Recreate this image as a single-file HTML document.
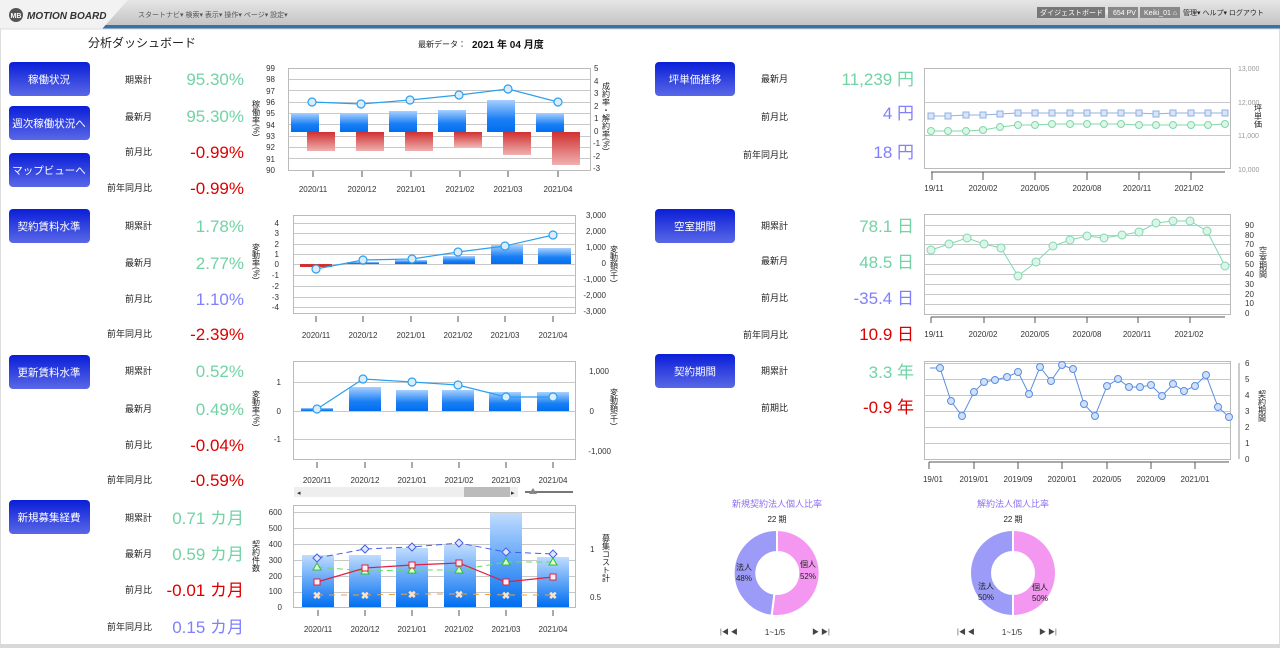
<!DOCTYPE html>
<html><head><meta charset="utf-8"><style>
html,body{margin:0;padding:0;background:#fff;}
svg{display:block;font-family:"Liberation Sans","Noto Sans CJK JP",sans-serif;}
.lb{font-size:9px;fill:#222;text-anchor:end;}
.v{font-size:17px;text-anchor:end;}
.g{fill:#72d3a4}.r{fill:#dd0000}.p{fill:#8080ff}
.bt{font-size:10.5px;fill:#fff;text-anchor:middle;}
.ax{font-size:8px;fill:#333;}
.axr{font-size:7px;fill:#999;}
.grid{stroke:#c8c8c8;stroke-width:1}
.box{fill:#fff;stroke:#bbb;stroke-width:1}
</style></head><body>
<svg width="1280" height="648" viewBox="0 0 1280 648">
<defs>
<linearGradient id="hd" x1="0" y1="0" x2="0" y2="1"><stop offset="0" stop-color="#e6e6e6"/><stop offset="1" stop-color="#c4c4c4"/></linearGradient>
<linearGradient id="btn" x1="0" y1="0" x2="0" y2="1"><stop offset="0" stop-color="#0a1ed8"/><stop offset="1" stop-color="#5a68e6"/></linearGradient>
<linearGradient id="bb" x1="0" y1="0" x2="0" y2="1"><stop offset="0" stop-color="#a8d0ff"/><stop offset="0.6" stop-color="#1a7ff5"/><stop offset="1" stop-color="#006ef0"/></linearGradient>
<linearGradient id="rb" x1="0" y1="0" x2="0" y2="1"><stop offset="0" stop-color="#d03030"/><stop offset="1" stop-color="#f0b0b0"/></linearGradient>
<linearGradient id="bb4" x1="0" y1="0" x2="0" y2="1"><stop offset="0" stop-color="#c0dcff"/><stop offset="1" stop-color="#006ef0"/></linearGradient>
</defs>
<rect x="0" y="0" width="1280" height="648" fill="#fff"/>
<rect x="0" y="0" width="1280" height="25" fill="url(#hd)"/>
<rect x="100" y="25" width="1180" height="4" fill="#3d6fa8"/>
<polygon points="0,0 128,0 102,29 0,29" fill="#f2f2f2"/>
<circle cx="16" cy="15" r="7" fill="#555"/><text x="16" y="18" font-size="7" fill="#fff" text-anchor="middle" font-weight="bold">MB</text>
<text x="27" y="19" font-size="10" font-weight="bold" font-style="italic" fill="#333">MOTION BOARD</text>
<text x="138" y="17" font-size="7" fill="#555">スタートナビ▾ 検索▾ 表示▾ 操作▾ ページ▾    設定▾</text>
<rect x="1037" y="7" width="68" height="11" fill="#777"/><text x="1040" y="15" font-size="7" fill="#fff">ダイジェストボード ↻</text>
<rect x="1108" y="7" width="30" height="11" fill="#888"/><text x="1113" y="15" font-size="7" fill="#fff">654 PV</text>
<rect x="1140" y="7" width="40" height="11" fill="#888"/><text x="1144" y="15" font-size="7" fill="#fff">Keiki_01 ⌂</text>
<text x="1183" y="15" font-size="7" fill="#222">管理▾ ヘルプ▾  ログアウト</text>
<rect x="0.5" y="29" width="1279" height="617" fill="none" stroke="#ddd"/>
<rect x="0" y="644" width="1280" height="4" fill="#d8d8d8"/>

<text x="88" y="47" font-size="12" fill="#222">分析ダッシュボード</text>
<text x="418" y="47" font-size="8" fill="#222">最新データ：</text>
<text x="472" y="48" font-size="10" font-weight="bold" fill="#111">2021 年 04 月度</text>

<g>
<rect x="9" y="62" width="81" height="34" rx="4" fill="url(#btn)"/><text class="bt" x="49" y="83">稼働状況</text>
<rect x="9" y="106" width="81" height="34" rx="4" fill="url(#btn)"/><text class="bt" x="49" y="127">週次稼働状況へ</text>
<rect x="9" y="153" width="81" height="34" rx="4" fill="url(#btn)"/><text class="bt" x="49" y="174">マップビューへ</text>
<rect x="9" y="209" width="81" height="34" rx="4" fill="url(#btn)"/><text class="bt" x="49" y="230">契約賃料水準</text>
<rect x="9" y="355" width="81" height="34" rx="4" fill="url(#btn)"/><text class="bt" x="49" y="376">更新賃料水準</text>
<rect x="9" y="500" width="81" height="34" rx="4" fill="url(#btn)"/><text class="bt" x="49" y="521">新規募集経費</text>
<rect x="655" y="62" width="80" height="34" rx="4" fill="url(#btn)"/><text class="bt" x="695" y="83">坪単価推移</text>
<rect x="655" y="209" width="80" height="34" rx="4" fill="url(#btn)"/><text class="bt" x="695" y="230">空室期間</text>
<rect x="655" y="354" width="80" height="34" rx="4" fill="url(#btn)"/><text class="bt" x="695" y="375">契約期間</text>
</g>

<text class="lb" x="152" y="83">期累計</text><text class="v g" x="244" y="85">95.30%</text>
<text class="lb" x="152" y="120">最新月</text><text class="v g" x="244" y="122">95.30%</text>
<text class="lb" x="152" y="155">前月比</text><text class="v r" x="244" y="158">-0.99%</text>
<text class="lb" x="152" y="191">前年同月比</text><text class="v r" x="244" y="194">-0.99%</text>
<text class="lb" x="152" y="229">期累計</text><text class="v g" x="244" y="232">1.78%</text>
<text class="lb" x="152" y="266">最新月</text><text class="v g" x="244" y="269">2.77%</text>
<text class="lb" x="152" y="302">前月比</text><text class="v p" x="244" y="305">1.10%</text>
<text class="lb" x="152" y="337">前年同月比</text><text class="v r" x="244" y="340">-2.39%</text>
<text class="lb" x="152" y="374">期累計</text><text class="v g" x="244" y="377">0.52%</text>
<text class="lb" x="152" y="412">最新月</text><text class="v g" x="244" y="415">0.49%</text>
<text class="lb" x="152" y="448">前月比</text><text class="v r" x="244" y="451">-0.04%</text>
<text class="lb" x="152" y="483">前年同月比</text><text class="v r" x="244" y="486">-0.59%</text>
<text class="lb" x="152" y="521">期累計</text><text class="v g" x="244" y="524">0.71 カ月</text>
<text class="lb" x="152" y="557">最新月</text><text class="v g" x="244" y="560">0.59 カ月</text>
<text class="lb" x="152" y="593">前月比</text><text class="v r" x="244" y="596">-0.01 カ月</text>
<text class="lb" x="152" y="630">前年同月比</text><text class="v p" x="244" y="633">0.15 カ月</text>

<text class="lb" x="788" y="82">最新月</text><text class="v g" x="914" y="85">11,239 円</text>
<text class="lb" x="788" y="120">前月比</text><text class="v p" x="914" y="119">4 円</text>
<text class="lb" x="788" y="158">前年同月比</text><text class="v p" x="914" y="158">18 円</text>
<text class="lb" x="788" y="229">期累計</text><text class="v g" x="914" y="232">78.1 日</text>
<text class="lb" x="788" y="264">最新月</text><text class="v g" x="914" y="268">48.5 日</text>
<text class="lb" x="788" y="301">前月比</text><text class="v p" x="914" y="304">-35.4 日</text>
<text class="lb" x="788" y="338">前年同月比</text><text class="v r" x="914" y="340">10.9 日</text>
<text class="lb" x="788" y="374">期累計</text><text class="v g" x="914" y="378">3.3 年</text>
<text class="lb" x="788" y="411">前期比</text><text class="v r" x="914" y="413">-0.9 年</text>

<!-- Chart 1 -->
<rect class="box" x="288.5" y="68.5" width="302" height="102"/>
<g class="grid">
<line x1="289" y1="79.5" x2="590" y2="79.5"/><line x1="289" y1="90.5" x2="590" y2="90.5"/><line x1="289" y1="102.5" x2="590" y2="102.5"/><line x1="289" y1="113.5" x2="590" y2="113.5"/><line x1="289" y1="124.5" x2="590" y2="124.5"/><line x1="289" y1="136.5" x2="590" y2="136.5"/><line x1="289" y1="147.5" x2="590" y2="147.5"/><line x1="289" y1="158.5" x2="590" y2="158.5"/>
</g>
<g fill="url(#bb)">
<rect x="291" y="113" width="28" height="19"/><rect x="340" y="113" width="28" height="19"/><rect x="389" y="111" width="28" height="21"/><rect x="438" y="110" width="28" height="22"/><rect x="487" y="100" width="28" height="32"/><rect x="536" y="113" width="28" height="19"/>
</g>
<g fill="url(#rb)">
<rect x="307" y="132" width="28" height="19"/><rect x="356" y="132" width="28" height="19"/><rect x="405" y="132" width="28" height="19"/><rect x="454" y="132" width="28" height="15"/><rect x="503" y="132" width="28" height="23"/><rect x="552" y="132" width="28" height="33"/>
</g>
<polyline points="312,102 361,104 410,100 459,95 508,89 558,102" fill="none" stroke="#2aa0f0" stroke-width="1.2"/>
<g fill="#dcecfa" stroke="#2aa0f0" stroke-width="1.2"><circle cx="312" cy="102" r="4"/><circle cx="361" cy="104" r="4"/><circle cx="410" cy="100" r="4"/><circle cx="459" cy="95" r="4"/><circle cx="508" cy="89" r="4"/><circle cx="558" cy="102" r="4"/></g>
<g class="ax" text-anchor="end">
<text x="275" y="71">99</text><text x="275" y="82">98</text><text x="275" y="94">97</text><text x="275" y="105">96</text><text x="275" y="116">95</text><text x="275" y="128">94</text><text x="275" y="139">93</text><text x="275" y="150">92</text><text x="275" y="162">91</text><text x="275" y="173">90</text>
</g>
<g class="ax"><text x="594" y="71">5</text><text x="594" y="84">4</text><text x="594" y="96">3</text><text x="594" y="109">2</text><text x="594" y="121">1</text><text x="594" y="134">0</text><text x="593" y="146">-1</text><text x="593" y="159">-2</text><text x="593" y="171">-3</text></g>
<text x="256" y="100" font-size="8" fill="#222" writing-mode="tb">稼働率(%)</text>
<text x="606" y="82" font-size="8" fill="#222" writing-mode="tb">成約率・解約率(%)</text>
<g stroke="#555"><line x1="313" y1="171" x2="313" y2="177"/><line x1="362" y1="171" x2="362" y2="177"/><line x1="411" y1="171" x2="411" y2="177"/><line x1="460" y1="171" x2="460" y2="177"/><line x1="508" y1="171" x2="508" y2="177"/><line x1="558" y1="171" x2="558" y2="177"/></g>
<g class="ax" text-anchor="middle"><text x="313" y="192">2020/11</text><text x="362" y="192">2020/12</text><text x="411" y="192">2021/01</text><text x="460" y="192">2021/02</text><text x="508" y="192">2021/03</text><text x="558" y="192">2021/04</text></g>

<!-- Chart 2 -->
<rect class="box" x="293.5" y="215.5" width="282" height="98"/>
<g class="grid">
<line x1="294" y1="223.5" x2="575" y2="223.5"/><line x1="294" y1="233.5" x2="575" y2="233.5"/><line x1="294" y1="244.5" x2="575" y2="244.5"/><line x1="294" y1="254.5" x2="575" y2="254.5"/><line x1="294" y1="264.5" x2="575" y2="264.5"/><line x1="294" y1="275.5" x2="575" y2="275.5"/><line x1="294" y1="286.5" x2="575" y2="286.5"/><line x1="294" y1="297.5" x2="575" y2="297.5"/><line x1="294" y1="307.5" x2="575" y2="307.5"/>
</g>
<rect x="300" y="264" width="32" height="3" fill="#d03030"/>
<g fill="url(#bb)"><rect x="347" y="262" width="32" height="2"/><rect x="395" y="260" width="32" height="4"/><rect x="443" y="256" width="32" height="8"/><rect x="491" y="245" width="32" height="19"/><rect x="538" y="248" width="33" height="16"/></g>
<polyline points="316,269 363,260 412,259 458,252 505,246 553,235" fill="none" stroke="#2aa0f0" stroke-width="1.2"/>
<g fill="#dcecfa" stroke="#2aa0f0" stroke-width="1.2"><circle cx="316" cy="269" r="4"/><circle cx="363" cy="260" r="4"/><circle cx="412" cy="259" r="4"/><circle cx="458" cy="252" r="4"/><circle cx="505" cy="246" r="4"/><circle cx="553" cy="235" r="4"/></g>
<g class="ax" text-anchor="end"><text x="279" y="226">4</text><text x="279" y="236">3</text><text x="279" y="247">2</text><text x="279" y="257">1</text><text x="279" y="267">0</text><text x="279" y="278">-1</text><text x="279" y="289">-2</text><text x="279" y="300">-3</text><text x="279" y="310">-4</text></g>
<g class="ax" text-anchor="end"><text x="606" y="218">3,000</text><text x="606" y="234">2,000</text><text x="606" y="250">1,000</text><text x="606" y="266">0</text><text x="606" y="282">-1,000</text><text x="606" y="298">-2,000</text><text x="606" y="314">-3,000</text></g>
<text x="256" y="243" font-size="8" fill="#222" writing-mode="tb">変動率(%)</text>
<text x="614" y="245" font-size="8" fill="#222" writing-mode="tb">変動額(千)</text>
<g stroke="#555"><line x1="316" y1="316" x2="316" y2="322"/><line x1="363" y1="316" x2="363" y2="322"/><line x1="411" y1="316" x2="411" y2="322"/><line x1="458" y1="316" x2="458" y2="322"/><line x1="505" y1="316" x2="505" y2="322"/><line x1="553" y1="316" x2="553" y2="322"/></g>
<g class="ax" text-anchor="middle"><text x="316" y="338">2020/11</text><text x="363" y="338">2020/12</text><text x="411" y="338">2021/01</text><text x="458" y="338">2021/02</text><text x="505" y="338">2021/03</text><text x="553" y="338">2021/04</text></g>

<!-- Chart 3 -->
<rect class="box" x="293.5" y="361.5" width="282" height="98"/>
<g class="grid"><line x1="294" y1="382.5" x2="575" y2="382.5"/><line x1="294" y1="411.5" x2="575" y2="411.5"/><line x1="294" y1="439.5" x2="575" y2="439.5"/></g>
<g fill="url(#bb)"><rect x="301" y="408" width="32" height="3"/><rect x="349" y="387" width="32" height="24"/><rect x="396" y="390" width="32" height="21"/><rect x="442" y="390" width="32" height="21"/><rect x="489" y="392" width="32" height="19"/><rect x="537" y="392" width="32" height="19"/></g>
<polyline points="317,409 363,379 412,382 458,385 506,397 553,397" fill="none" stroke="#2aa0f0" stroke-width="1.2"/>
<g fill="#dcecfa" stroke="#2aa0f0" stroke-width="1.2"><circle cx="317" cy="409" r="4"/><circle cx="363" cy="379" r="4"/><circle cx="412" cy="382" r="4"/><circle cx="458" cy="385" r="4"/><circle cx="506" cy="397" r="4"/><circle cx="553" cy="397" r="4"/></g>
<g class="ax" text-anchor="end"><text x="281" y="385">1</text><text x="281" y="414">0</text><text x="281" y="442">-1</text></g>
<g class="ax" text-anchor="end"><text x="609" y="374">1,000</text><text x="594" y="414">0</text><text x="611" y="454">-1,000</text></g>
<text x="256" y="390" font-size="8" fill="#222" writing-mode="tb">変動率(%)</text>
<text x="614" y="388" font-size="8" fill="#222" writing-mode="tb">変動額(千)</text>
<g stroke="#555"><line x1="317" y1="462" x2="317" y2="468"/><line x1="365" y1="462" x2="365" y2="468"/><line x1="412" y1="462" x2="412" y2="468"/><line x1="459" y1="462" x2="459" y2="468"/><line x1="506" y1="462" x2="506" y2="468"/><line x1="553" y1="462" x2="553" y2="468"/></g>
<g class="ax" text-anchor="middle"><text x="317" y="483">2020/11</text><text x="365" y="483">2020/12</text><text x="412" y="483">2021/01</text><text x="459" y="483">2021/02</text><text x="506" y="483">2021/03</text><text x="553" y="483">2021/04</text></g>
<rect x="294" y="487" width="224" height="10" fill="#eee"/><rect x="464" y="487" width="46" height="10" fill="#bbb"/>
<text x="297" y="495" font-size="7" fill="#333">◂</text><text x="511" y="495" font-size="7" fill="#333">▸</text>
<line x1="525" y1="492" x2="573" y2="492" stroke="#777" stroke-width="2"/><polygon points="533,488 529,494 537,494" fill="#888"/>

<!-- Chart 4 -->
<rect class="box" x="293.5" y="505.5" width="282" height="102"/>
<g class="grid"><line x1="294" y1="512.5" x2="575" y2="512.5"/><line x1="294" y1="528.5" x2="575" y2="528.5"/><line x1="294" y1="544.5" x2="575" y2="544.5"/><line x1="294" y1="560.5" x2="575" y2="560.5"/><line x1="294" y1="576.5" x2="575" y2="576.5"/><line x1="294" y1="592.5" x2="575" y2="592.5"/></g>
<g fill="url(#bb4)"><rect x="302" y="555" width="32" height="52"/><rect x="349" y="555" width="32" height="52"/><rect x="396" y="548" width="32" height="59"/><rect x="444" y="545" width="32" height="62"/><rect x="490" y="513" width="32" height="94"/><rect x="537" y="557" width="32" height="50"/></g>
<polyline points="317,558 365,549 412,547 459,543 506,552 553,554" fill="none" stroke="#4060f0" stroke-dasharray="6,4"/>
<polyline points="317,567 365,571 412,570 459,570 506,562 553,562" fill="none" stroke="#60e060" stroke-dasharray="6,4"/>
<polyline points="317,595 365,595 412,594 459,594 506,595 553,595" fill="none" stroke="#f0a040" stroke-dasharray="6,6"/>
<polyline points="317,582 365,568 412,565 459,563 506,582 553,577" fill="none" stroke="#e02040" stroke-width="1.2"/>
<g fill="#dfe6ff" stroke="#4060f0"><polygon points="317,554 321,558 317,562 313,558"/><polygon points="365,545 369,549 365,553 361,549"/><polygon points="412,543 416,547 412,551 408,547"/><polygon points="459,539 463,543 459,547 455,543"/><polygon points="506,548 510,552 506,556 502,552"/><polygon points="553,550 557,554 553,558 549,554"/></g>
<g fill="#dfffd8" stroke="#30c030"><polygon points="317,563 321,570 313,570"/><polygon points="365,567 369,574 361,574"/><polygon points="412,566 416,573 408,573"/><polygon points="459,566 463,573 455,573"/><polygon points="506,558 510,565 502,565"/><polygon points="553,558 557,565 549,565"/></g>
<g fill="#fff0f0" stroke="#e02040"><rect x="314" y="579" width="6" height="6"/><rect x="362" y="565" width="6" height="6"/><rect x="409" y="562" width="6" height="6"/><rect x="456" y="560" width="6" height="6"/><rect x="503" y="579" width="6" height="6"/><rect x="550" y="574" width="6" height="6"/></g>
<g font-size="10" fill="#fbe3c8" text-anchor="middle" font-weight="bold"><text x="317" y="599">✖</text><text x="365" y="599">✖</text><text x="412" y="598">✖</text><text x="459" y="598">✖</text><text x="506" y="599">✖</text><text x="553" y="599">✖</text></g>
<g class="ax" text-anchor="end"><text x="282" y="515">600</text><text x="282" y="531">500</text><text x="282" y="547">400</text><text x="282" y="563">300</text><text x="282" y="579">200</text><text x="282" y="594">100</text><text x="282" y="610">0</text></g>
<g class="ax"><text x="590" y="552">1</text><text x="590" y="600">0.5</text></g>
<text x="256" y="540" font-size="8" fill="#222" writing-mode="tb">契約件数</text>
<text x="606" y="534" font-size="8" fill="#222" writing-mode="tb">募集コスト計</text>
<g stroke="#555"><line x1="318" y1="610" x2="318" y2="616"/><line x1="365" y1="610" x2="365" y2="616"/><line x1="412" y1="610" x2="412" y2="616"/><line x1="459" y1="610" x2="459" y2="616"/><line x1="506" y1="610" x2="506" y2="616"/><line x1="553" y1="610" x2="553" y2="616"/></g>
<g class="ax" text-anchor="middle"><text x="318" y="632">2020/11</text><text x="365" y="632">2020/12</text><text x="412" y="632">2021/01</text><text x="459" y="632">2021/02</text><text x="506" y="632">2021/03</text><text x="553" y="632">2021/04</text></g>

<!-- Chart A -->
<rect class="box" x="924.5" y="68.5" width="306" height="100"/>
<g class="grid"><line x1="925" y1="102.5" x2="1230" y2="102.5"/><line x1="925" y1="135.5" x2="1230" y2="135.5"/></g>
<polyline points="931,116 948,116 966,115 983,115 1000,114 1018,113 1035,113 1052,113 1070,113 1087,113 1104,113 1121,113 1139,113 1156,114 1173,113 1191,113 1208,113 1225,113" fill="none" stroke="#90b0e0"/>
<g fill="#d8e4f8" stroke="#90b0e0"><rect x="928" y="113" width="6" height="6"/><rect x="945" y="113" width="6" height="6"/><rect x="963" y="112" width="6" height="6"/><rect x="980" y="112" width="6" height="6"/><rect x="997" y="111" width="6" height="6"/><rect x="1015" y="110" width="6" height="6"/><rect x="1032" y="110" width="6" height="6"/><rect x="1049" y="110" width="6" height="6"/><rect x="1067" y="110" width="6" height="6"/><rect x="1084" y="110" width="6" height="6"/><rect x="1101" y="110" width="6" height="6"/><rect x="1118" y="110" width="6" height="6"/><rect x="1136" y="110" width="6" height="6"/><rect x="1153" y="111" width="6" height="6"/><rect x="1170" y="110" width="6" height="6"/><rect x="1188" y="110" width="6" height="6"/><rect x="1205" y="110" width="6" height="6"/><rect x="1222" y="110" width="6" height="6"/></g>
<polyline points="931,131 948,131 966,131 983,130 1000,127 1018,125 1035,125 1052,124 1070,124 1087,124 1104,124 1121,124 1139,125 1156,125 1173,125 1191,125 1208,125 1225,124" fill="none" stroke="#80d8a8"/>
<g fill="#dcf5e8" stroke="#80d8a8"><circle cx="931" cy="131" r="3.5"/><circle cx="948" cy="131" r="3.5"/><circle cx="966" cy="131" r="3.5"/><circle cx="983" cy="130" r="3.5"/><circle cx="1000" cy="127" r="3.5"/><circle cx="1018" cy="125" r="3.5"/><circle cx="1035" cy="125" r="3.5"/><circle cx="1052" cy="124" r="3.5"/><circle cx="1070" cy="124" r="3.5"/><circle cx="1087" cy="124" r="3.5"/><circle cx="1104" cy="124" r="3.5"/><circle cx="1121" cy="124" r="3.5"/><circle cx="1139" cy="125" r="3.5"/><circle cx="1156" cy="125" r="3.5"/><circle cx="1173" cy="125" r="3.5"/><circle cx="1191" cy="125" r="3.5"/><circle cx="1208" cy="125" r="3.5"/><circle cx="1225" cy="124" r="3.5"/></g>
<g class="axr"><text x="1238" y="71">13,000</text><text x="1238" y="105">12,000</text><text x="1238" y="138">11,000</text><text x="1238" y="172">10,000</text></g>
<text x="1258" y="104" font-size="8" fill="#222" writing-mode="tb">坪単価</text>
<line x1="931" y1="172" x2="1225" y2="172" stroke="#555"/>
<g stroke="#555"><line x1="932" y1="172" x2="932" y2="180"/><line x1="983" y1="172" x2="983" y2="180"/><line x1="1035" y1="172" x2="1035" y2="180"/><line x1="1087" y1="172" x2="1087" y2="180"/><line x1="1139" y1="172" x2="1139" y2="180"/><line x1="1191" y1="172" x2="1191" y2="180"/></g>
<g class="ax" text-anchor="middle"><text x="934" y="191">19/11</text><text x="983" y="191">2020/02</text><text x="1035" y="191">2020/05</text><text x="1087" y="191">2020/08</text><text x="1137" y="191">2020/11</text><text x="1189" y="191">2021/02</text></g>

<!-- Chart B -->
<rect class="box" x="924.5" y="214.5" width="306" height="100"/>
<g class="grid"><line x1="925" y1="225.5" x2="1230" y2="225.5"/><line x1="925" y1="235.5" x2="1230" y2="235.5"/><line x1="925" y1="244.5" x2="1230" y2="244.5"/><line x1="925" y1="254.5" x2="1230" y2="254.5"/><line x1="925" y1="264.5" x2="1230" y2="264.5"/><line x1="925" y1="274.5" x2="1230" y2="274.5"/><line x1="925" y1="284.5" x2="1230" y2="284.5"/><line x1="925" y1="294.5" x2="1230" y2="294.5"/><line x1="925" y1="304.5" x2="1230" y2="304.5"/></g>
<polyline points="931,250 949,244 967,238 984,244 1001,248 1018,276 1036,262 1053,246 1070,240 1087,236 1104,238 1122,235 1139,232 1156,223 1173,221 1190,221 1207,231 1225,266" fill="none" stroke="#80d8b0"/>
<g fill="#dcf5e8" stroke="#80d8b0"><circle cx="931" cy="250" r="4"/><circle cx="949" cy="244" r="4"/><circle cx="967" cy="238" r="4"/><circle cx="984" cy="244" r="4"/><circle cx="1001" cy="248" r="4"/><circle cx="1018" cy="276" r="4"/><circle cx="1036" cy="262" r="4"/><circle cx="1053" cy="246" r="4"/><circle cx="1070" cy="240" r="4"/><circle cx="1087" cy="236" r="4"/><circle cx="1104" cy="238" r="4"/><circle cx="1122" cy="235" r="4"/><circle cx="1139" cy="232" r="4"/><circle cx="1156" cy="223" r="4"/><circle cx="1173" cy="221" r="4"/><circle cx="1190" cy="221" r="4"/><circle cx="1207" cy="231" r="4"/><circle cx="1225" cy="266" r="4"/></g>
<g class="ax"><text x="1245" y="228">90</text><text x="1245" y="238">80</text><text x="1245" y="247">70</text><text x="1245" y="257">60</text><text x="1245" y="267">50</text><text x="1245" y="277">40</text><text x="1245" y="287">30</text><text x="1245" y="297">20</text><text x="1245" y="306">10</text><text x="1245" y="316">0</text></g>
<text x="1263" y="246" font-size="8" fill="#222" writing-mode="tb">空室期間</text>
<line x1="931" y1="317" x2="1225" y2="317" stroke="#555"/>
<g stroke="#555"><line x1="931" y1="317" x2="931" y2="323"/><line x1="984" y1="317" x2="984" y2="323"/><line x1="1035" y1="317" x2="1035" y2="323"/><line x1="1087" y1="317" x2="1087" y2="323"/><line x1="1138" y1="317" x2="1138" y2="323"/><line x1="1190" y1="317" x2="1190" y2="323"/></g>
<g class="ax" text-anchor="middle"><text x="934" y="337">19/11</text><text x="983" y="337">2020/02</text><text x="1035" y="337">2020/05</text><text x="1087" y="337">2020/08</text><text x="1137" y="337">2020/11</text><text x="1189" y="337">2021/02</text></g>

<!-- Chart C -->
<rect class="box" x="924.5" y="361.5" width="306" height="98"/>
<g class="grid"><line x1="925" y1="363.5" x2="1230" y2="363.5"/><line x1="925" y1="379.5" x2="1230" y2="379.5"/><line x1="925" y1="395.5" x2="1230" y2="395.5"/><line x1="925" y1="411.5" x2="1230" y2="411.5"/><line x1="925" y1="427.5" x2="1230" y2="427.5"/><line x1="925" y1="443.5" x2="1230" y2="443.5"/></g>
<polyline points="930,368 940,368 951,401 962,416 974,392 984,382 995,380 1007,377 1018,372 1029,394 1040,367 1051,381 1062,365 1073,369 1084,404 1095,416 1107,386 1118,379 1129,387 1140,387 1151,385 1162,396 1173,384 1184,391 1195,386 1206,375 1218,407 1229,417" fill="none" stroke="#5a8ee0"/>
<g fill="#d0e0f8" stroke="#5a8ee0"><circle cx="940" cy="368" r="3.5"/><circle cx="951" cy="401" r="3.5"/><circle cx="962" cy="416" r="3.5"/><circle cx="974" cy="392" r="3.5"/><circle cx="984" cy="382" r="3.5"/><circle cx="995" cy="380" r="3.5"/><circle cx="1007" cy="377" r="3.5"/><circle cx="1018" cy="372" r="3.5"/><circle cx="1029" cy="394" r="3.5"/><circle cx="1040" cy="367" r="3.5"/><circle cx="1051" cy="381" r="3.5"/><circle cx="1062" cy="365" r="3.5"/><circle cx="1073" cy="369" r="3.5"/><circle cx="1084" cy="404" r="3.5"/><circle cx="1095" cy="416" r="3.5"/><circle cx="1107" cy="386" r="3.5"/><circle cx="1118" cy="379" r="3.5"/><circle cx="1129" cy="387" r="3.5"/><circle cx="1140" cy="387" r="3.5"/><circle cx="1151" cy="385" r="3.5"/><circle cx="1162" cy="396" r="3.5"/><circle cx="1173" cy="384" r="3.5"/><circle cx="1184" cy="391" r="3.5"/><circle cx="1195" cy="386" r="3.5"/><circle cx="1206" cy="375" r="3.5"/><circle cx="1218" cy="407" r="3.5"/><circle cx="1229" cy="417" r="3.5"/></g>
<line x1="1239" y1="363" x2="1239" y2="459" stroke="#999"/>
<g class="ax"><text x="1245" y="366">6</text><text x="1245" y="382">5</text><text x="1245" y="398">4</text><text x="1245" y="414">3</text><text x="1245" y="430">2</text><text x="1245" y="446">1</text><text x="1245" y="462">0</text></g>
<text x="1262" y="390" font-size="8" fill="#222" writing-mode="tb">契約期間</text>
<line x1="929" y1="462" x2="1229" y2="462" stroke="#555"/>
<g stroke="#555"><line x1="929" y1="462" x2="929" y2="469"/><line x1="974" y1="462" x2="974" y2="469"/><line x1="1018" y1="462" x2="1018" y2="469"/><line x1="1062" y1="462" x2="1062" y2="469"/><line x1="1107" y1="462" x2="1107" y2="469"/><line x1="1151" y1="462" x2="1151" y2="469"/><line x1="1195" y1="462" x2="1195" y2="469"/></g>
<g class="ax" text-anchor="middle"><text x="933" y="482">19/01</text><text x="974" y="482">2019/01</text><text x="1018" y="482">2019/09</text><text x="1062" y="482">2020/01</text><text x="1107" y="482">2020/05</text><text x="1151" y="482">2020/09</text><text x="1195" y="482">2021/01</text></g>

<!-- Donuts -->
<text x="777" y="507" font-size="9" fill="#9070f0" text-anchor="middle">新規契約法人個人比率</text>
<text x="777" y="522" font-size="8" fill="#222" text-anchor="middle">22 期</text>
<path d="M777,530 A43,43 0 1 1 771.6,615.7 L774.4,593.8 A21,21 0 1 0 777,552 Z" fill="#f397f0" stroke="#fff" stroke-width="2"/>
<path d="M771.6,615.7 A43,43 0 0 1 777,530 L777,552 A21,21 0 0 0 774.4,593.8 Z" fill="#9c9cf8" stroke="#fff" stroke-width="2"/>
<text x="744" y="570" font-size="8" fill="#222" text-anchor="middle">法人</text><text x="744" y="581" font-size="8" fill="#222" text-anchor="middle">48%</text>
<text x="808" y="567" font-size="8" fill="#222" text-anchor="middle">個人</text><text x="808" y="579" font-size="8" fill="#222" text-anchor="middle">52%</text>
<text x="775" y="635" font-size="8" fill="#333" text-anchor="middle">1~1/5</text>
<text x="720" y="634" font-size="7" fill="#444">|◀     ◀</text><text x="812" y="634" font-size="7" fill="#444">▶     ▶|</text>

<text x="1013" y="507" font-size="9" fill="#9070f0" text-anchor="middle">解約法人個人比率</text>
<text x="1013" y="522" font-size="8" fill="#222" text-anchor="middle">22 期</text>
<path d="M1013,530 A43,43 0 0 1 1013,616 L1013,594 A21,21 0 0 0 1013,552 Z" fill="#f397f0" stroke="#fff" stroke-width="2"/>
<path d="M1013,616 A43,43 0 0 1 1013,530 L1013,552 A21,21 0 0 0 1013,594 Z" fill="#9c9cf8" stroke="#fff" stroke-width="2"/>
<text x="986" y="589" font-size="8" fill="#222" text-anchor="middle">法人</text><text x="986" y="600" font-size="8" fill="#222" text-anchor="middle">50%</text>
<text x="1040" y="590" font-size="8" fill="#222" text-anchor="middle">個人</text><text x="1040" y="601" font-size="8" fill="#222" text-anchor="middle">50%</text>
<text x="1012" y="635" font-size="8" fill="#333" text-anchor="middle">1~1/5</text>
<text x="957" y="634" font-size="7" fill="#444">|◀     ◀</text><text x="1039" y="634" font-size="7" fill="#444">▶     ▶|</text>
</svg>
</body></html>
